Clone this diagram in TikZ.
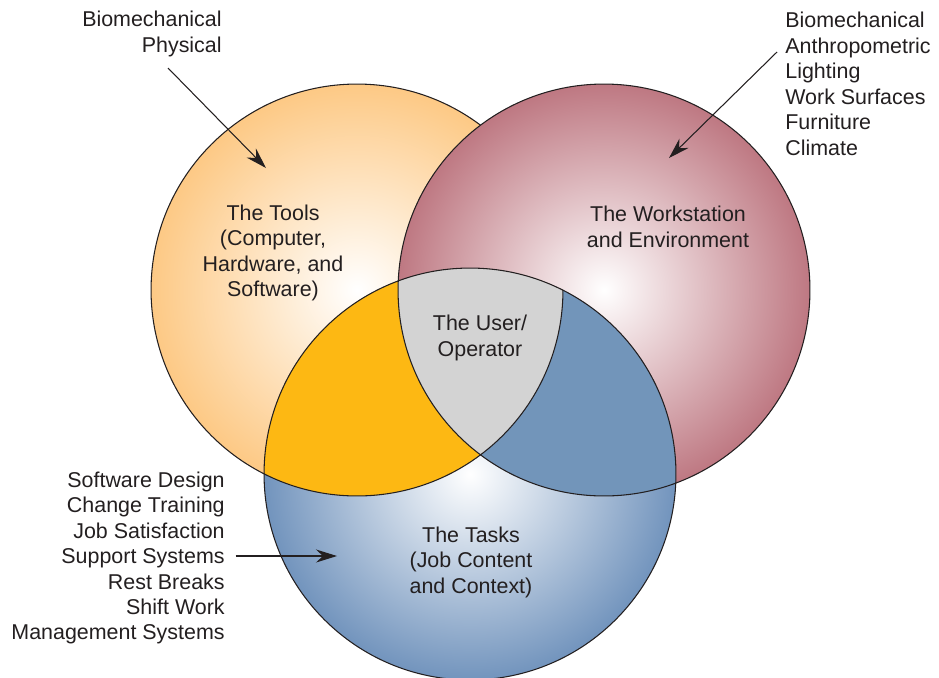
\documentclass[tikz,border=0pt]{standalone}
\usepackage{fontspec}
\setmainfont{Liberation Sans}
\usepackage{xcolor}
\usepackage{tikz}
\usetikzlibrary{positioning,arrows.meta}
\definecolor{toolsedge}{HTML}{FDC985}
\definecolor{workedge}{HTML}{BE7882}
\definecolor{tasksedge}{HTML}{7294BD}
\definecolor{toolstasks}{HTML}{FDB813}
\definecolor{worktasks}{HTML}{7295BA}
\definecolor{userfill}{HTML}{D3D3D3}
\definecolor{ink}{HTML}{231F20}

\tikzset{
  label/.style={font=\fontsize{12.2}{14.5}\selectfont,text=ink,inner sep=0pt},
  rim/.style={draw=ink,line width=0.6pt},
  arr/.style={draw=ink,line width=0.6pt,-{Stealth[length=4.2mm,width=2.6mm,inset=1.4mm]}}
}

\begin{document}
\begin{tikzpicture}[x=0.02cm,y=-0.02cm]
  \useasboundingbox (0,0) rectangle (939,677);
  \def\rad{4.12cm}
  \coordinate (tools) at (357,290);
  \coordinate (work) at (604,290);
  \coordinate (tasks) at (470,474);

  % the three circles
  \shade[inner color=white,outer color=toolsedge] (tools) circle [radius=\rad];
  \draw[rim] (tools) circle [radius=\rad];
  \shade[inner color=white,outer color=workedge] (work) circle [radius=\rad];
  \shade[inner color=white,outer color=tasksedge] (tasks) circle [radius=\rad];

  % overlaps
  \begin{scope}
    \clip (tools) circle [radius=\rad];
    \fill[toolstasks] (tasks) circle [radius=\rad];
  \end{scope}
  \begin{scope}
    \clip (work) circle [radius=\rad];
    \fill[worktasks] (tasks) circle [radius=\rad];
  \end{scope}
  \begin{scope}
    \clip (tools) circle [radius=\rad];
    \clip (work) circle [radius=\rad];
    \fill[userfill] (tasks) circle [radius=\rad];
  \end{scope}

  \draw[rim] (work) circle [radius=\rad];
  \draw[rim] (tasks) circle [radius=\rad];
  \begin{scope}
    \clip (tasks) circle [radius=\rad];
    \draw[rim] (tools) circle [radius=\rad];
  \end{scope}

  % labels inside
  \node[label,align=center] (toolstext) at (273,253) {The Tools\\(Computer,\\Hardware, and\\Software)};
  \node[label,align=center] (worktext) at (668,227) {The Workstation\\and Environment};
  \node[label,align=center] (usertext) at (480,338) {The User/\\Operator};
  \node[label,align=center] (taskstext) at (471,562) {The Tasks\\(Job Content\\and Context)};

  % factor lists
  \node[label,align=right,anchor=east] (toolsnote) at (222,34) {Biomechanical\\Physical};
  \node[label,align=left,anchor=west] (worknote) at (785,84) {Biomechanical\\Anthropometric\\Lighting\\Work Surfaces\\Furniture\\Climate};
  \node[label,align=right,anchor=east] (tasksnote) at (225,558) {Software Design\\Change Training\\Job Satisfaction\\Support Systems\\Rest Breaks\\Shift Work\\Management Systems};

  % arrows
  \coordinate (toolsfrom) at (168,68);
  \coordinate (toolstip) at (266,168);
  \coordinate (workfrom) at (777,52);
  \coordinate (worktip) at (669,158);
  \coordinate (taskstip) at (337,556);
  \draw[arr] (toolsfrom) -- (toolstip);
  \draw[arr] (workfrom) -- (worktip);
  \draw[arr] ([xshift=10\pgflinewidth]tasksnote.east |- taskstip) -- (taskstip);
\end{tikzpicture}
\end{document}
